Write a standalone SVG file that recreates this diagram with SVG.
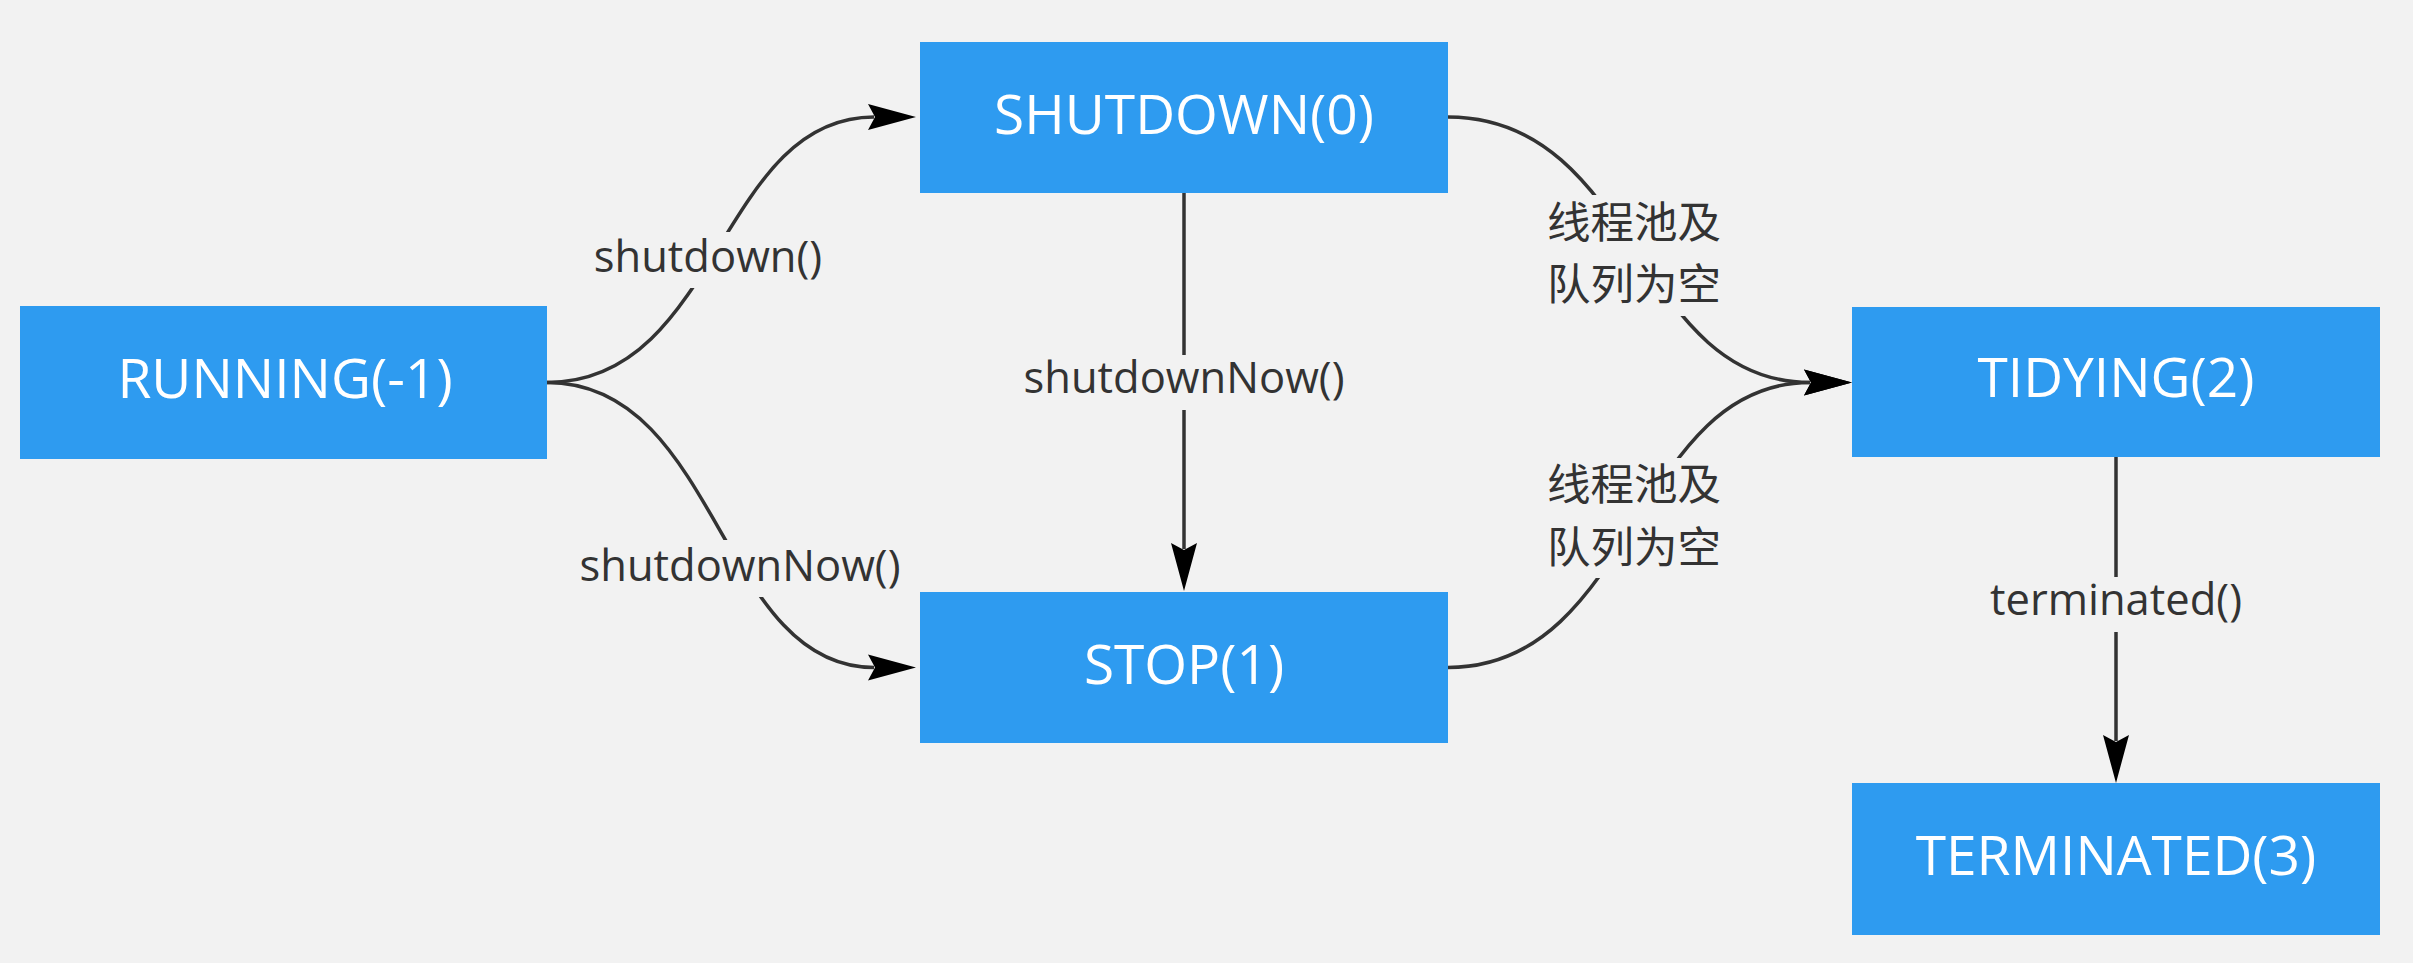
<svg xmlns="http://www.w3.org/2000/svg" width="2413" height="963" viewBox="0 0 2413 963">
  <style>
    .node rect { fill: #2e9bf0; }
    .node text { fill: #ffffff; font-family: "Open Sans", "Noto Sans", sans-serif; font-size: 55px; text-anchor: middle; }
    .conn path { fill: none; stroke: #333333; stroke-width: 3.5; }
    .lbl rect { fill: #f2f2f2; }
    .lbl text { fill: #333333; font-family: "Open Sans", "Noto Sans", "Noto Sans CJK SC", sans-serif; font-size: 43.5px; text-anchor: middle; }
    .lbl text.cjk { font-family: "Noto Sans CJK SC", sans-serif; font-size: 43.5px; }
  </style>
  <defs>
    <marker id="arr" markerUnits="userSpaceOnUse" markerWidth="50" markerHeight="28" refX="6" refY="13" orient="auto" overflow="visible">
      <path d="M0,0 L48,13 L0,26 L7,13 Z" fill="#000000"/>
    </marker>
  </defs>
  <rect x="0" y="0" width="2413" height="963" fill="#f2f2f2"/>

  <g id="connectors" class="conn">
    <path id="e-running-shutdown" d="M547,382.5 C719,382.5 719,117 874,117" marker-end="url(#arr)"/>
    <path id="e-running-stop" d="M547,382.5 C719,382.5 719,667.5 874,667.5" marker-end="url(#arr)"/>
    <path id="e-shutdown-stop" d="M1184,193 L1184,549" marker-end="url(#arr)"/>
    <path id="e-shutdown-tidying" d="M1448,117 C1636,117 1636,382.5 1810,382.5" marker-end="url(#arr)"/>
    <path id="e-stop-tidying" d="M1448,667.5 C1635,667.5 1635,382.5 1810,382.5" marker-end="url(#arr)"/>
    <path id="e-tidying-terminated" d="M2116,457 L2116,741" marker-end="url(#arr)"/>
  </g>

  <g id="labels" class="lbl">
    <g id="l-shutdown">
      <rect x="588" y="232" width="240" height="56"/>
      <text x="708" y="272">shutdown()</text>
    </g>
    <g id="l-shutdownnow-left">
      <rect x="576" y="540" width="328" height="57"/>
      <text x="740" y="581">shutdownNow()</text>
    </g>
    <g id="l-shutdownnow-mid">
      <rect x="1019" y="355" width="330" height="55"/>
      <text x="1184" y="393">shutdownNow()</text>
    </g>
    <g id="l-empty-top">
      <rect x="1542" y="195" width="184" height="121"/>
      <text class="cjk" x="1634" y="238">线程池及</text>
      <text class="cjk" x="1634" y="300">队列为空</text>
    </g>
    <g id="l-empty-bottom">
      <rect x="1542" y="458" width="184" height="120"/>
      <text class="cjk" x="1634" y="500">线程池及</text>
      <text class="cjk" x="1634" y="563">队列为空</text>
    </g>
    <g id="l-terminated">
      <rect x="1986" y="577" width="260" height="55"/>
      <text x="2116" y="615">terminated()</text>
    </g>
  </g>

  <g id="n-running" class="node">
    <rect x="20" y="306" width="527" height="153"/>
    <text x="285" y="398">RUNNING(-1)</text>
  </g>
  <g id="n-shutdown" class="node">
    <rect x="920" y="42" width="528" height="151"/>
    <text x="1184" y="134">SHUTDOWN(0)</text>
  </g>
  <g id="n-stop" class="node">
    <rect x="920" y="592" width="528" height="151"/>
    <text x="1184" y="684">STOP(1)</text>
  </g>
  <g id="n-tidying" class="node">
    <rect x="1852" y="307" width="528" height="150"/>
    <text x="2116" y="397">TIDYING(2)</text>
  </g>
  <g id="n-terminated" class="node">
    <rect x="1852" y="783" width="528" height="152"/>
    <text x="2116" y="875">TERMINATED(3)</text>
  </g>
</svg>
